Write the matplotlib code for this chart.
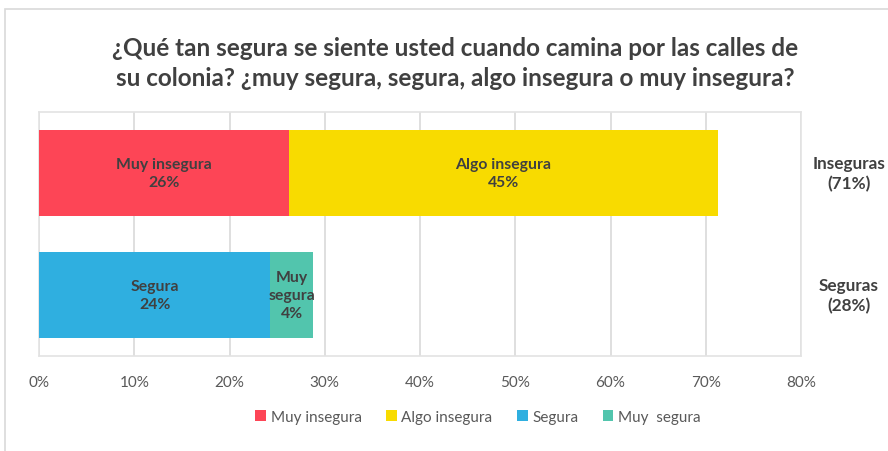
import matplotlib
matplotlib.use("Agg")
import matplotlib.pyplot as plt
from matplotlib.patches import Rectangle
from matplotlib.ticker import FuncFormatter
import matplotlib.transforms as mtrans

plt.rcParams['font.family'] = ['Lato', 'DejaVu Sans']

categories = ["Seguras", "Inseguras"]
group_labels = ["Seguras\n(28%)", "Inseguras\n(71%)"]
series_names = ["Muy insegura", "Algo insegura", "Segura", "Muy  segura"]
bar_text = ["Muy insegura", "Algo insegura", "Segura", "Muy\nsegura"]
# values per series for [Seguras, Inseguras]
muy_insegura = [0, 26.2]
algo_insegura = [0, 45.1]
segura = [24.3, 0]
muy_segura = [4.5, 0]
pct_labels = {"Muy insegura": "26%", "Algo insegura": "45%", "Segura": "24%", "Muy  segura": "4%"}
colors = ["#FD4556", "#F8DB00", "#2FAFE0", "#52C5AD"]
xticks = [0, 10, 20, 30, 40, 50, 60, 70, 80]

fig = plt.figure(figsize=(8.88, 4.52), dpi=100)
fig.patches.append(Rectangle((5/888, -0.05), 1.1, 1 - 10/452 + 0.05, transform=fig.transFigure,
                             fill=False, edgecolor="#D9D9D9", linewidth=1.2, zorder=0))
ax = fig.add_axes([39/888, 1 - 357/452, (801 - 39)/888, (357 - 113)/452])

ypos = list(range(len(categories)))
left = [0, 0]
for name, txt, vals, col in zip(series_names, bar_text, [muy_insegura, algo_insegura, segura, muy_segura], colors):
    ax.barh(ypos, vals, left=left, height=0.713, color=col, label=name, zorder=3)
    for y, v, l in zip(ypos, vals, left):
        if v > 0:
            ax.text(l + v / 2, y, f"{txt}\n{pct_labels[name]}", ha="center", va="center",
                    fontsize=11.3, fontweight="bold", color="#404040", zorder=4, linespacing=1.35)
    left = [a + b for a, b in zip(left, vals)]

ax.set_xlim(0, 80)
ax.set_ylim(-0.5, 1.5)
ax.set_xticks(xticks)
ax.xaxis.set_major_formatter(FuncFormatter(lambda v, p: f"{int(v)}%"))
ax.set_yticks([])
ax.tick_params(axis="x", length=0, labelsize=11, labelcolor="#595959", pad=14)
ax.grid(axis="x", color="#D9D9D9", linewidth=1.2, zorder=0)
for s in ax.spines.values():
    s.set_color("#E3E3E3")
    s.set_linewidth(1.2)

tr = mtrans.blended_transform_factory(fig.transFigure, ax.transData)
for y, lab in zip(ypos, group_labels):
    ax.text(849/888, y, lab, transform=tr, ha="center", va="center",
            fontsize=12.3, fontweight="bold", color="#404040", linespacing=1.35)

fig.text(455/888, 1 - 63.5/452, "¿Qué tan segura se siente usted cuando camina por las calles de\nsu colonia? ¿muy segura, segura, algo insegura o muy insegura?",
         ha="center", va="center", fontsize=17.5, fontweight="bold", color="#404040", linespacing=1.38)

leg = fig.legend(loc="center", bbox_to_anchor=(478/888, 1 - 418/452), ncol=4, frameon=False,
                 fontsize=11, handlelength=0.7, handleheight=0.7, handletextpad=0.3, columnspacing=1.6)
for t in leg.get_texts():
    t.set_color("#595959")

fig.savefig("out.png", dpi=100)
